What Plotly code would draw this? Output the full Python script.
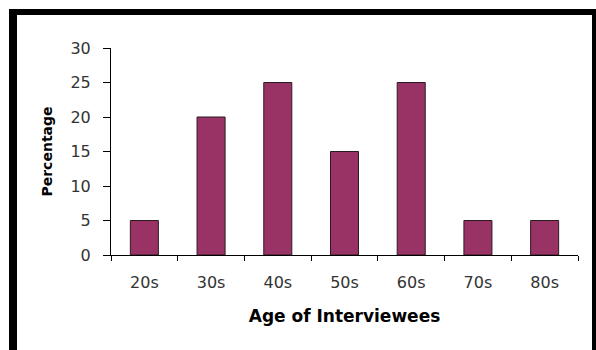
import plotly.graph_objects as go

categories = ["20s", "30s", "40s", "50s", "60s", "70s", "80s"]
percentages = [5, 20, 25, 15, 25, 5, 5]
y_ticks = [0, 5, 10, 15, 20, 25, 30]

fig = go.Figure()
fig.add_trace(go.Bar(
    x=categories, y=percentages,
    marker=dict(color="#993366", line=dict(color="#2a1a22", width=1)),
    width=0.42,
))

W, H = 596, 350
ml, mr, mt, mb = 111, 18, 48, 95
pw, ph = W - ml - mr, H - mt - mb

def px(x):
    return (x - ml) / pw

def py(y):
    return (H - mb - y) / ph

shapes = [
    dict(type="rect", xref="paper", yref="paper", x0=px(9), x1=px(17), y0=py(351), y1=py(9),
         fillcolor="black", line=dict(width=0), layer="above"),
    dict(type="rect", xref="paper", yref="paper", x0=px(9), x1=px(596), y0=py(15), y1=py(9),
         fillcolor="black", line=dict(width=0), layer="above"),
    dict(type="rect", xref="paper", yref="paper", x0=px(592), x1=px(596), y0=py(351), y1=py(9),
         fillcolor="black", line=dict(width=0), layer="above"),
]

fig.update_layout(
    width=W, height=H,
    margin=dict(l=ml, r=mr, t=mt, b=mb),
    paper_bgcolor="white", plot_bgcolor="white",
    showlegend=False,
    shapes=shapes,
    font=dict(family="DejaVu Sans", size=13, color="#333333"),
    xaxis=dict(
        showline=True, linecolor="black", linewidth=1,
        ticks="outside", tickson="boundaries", ticklen=5, tickcolor="black",
        showgrid=False,
        tickfont=dict(size=16, color="#333333"),
        ticklabelstandoff=13,
        title=dict(text="<b>Age of Interviewees</b>", font=dict(size=17, color="black"), standoff=18),
    ),
    yaxis=dict(
        range=[0, 30], tickvals=y_ticks,
        showline=True, linecolor="black", linewidth=1,
        ticks="outside", ticklen=7, tickcolor="black",
        showgrid=False, zeroline=False,
        tickfont=dict(size=16, color="#333333"),
        ticklabelstandoff=9,
        title=dict(text="<b>Percentage</b>", font=dict(size=14, color="black"), standoff=14),
    ),
)

fig.write_html("out.html")
